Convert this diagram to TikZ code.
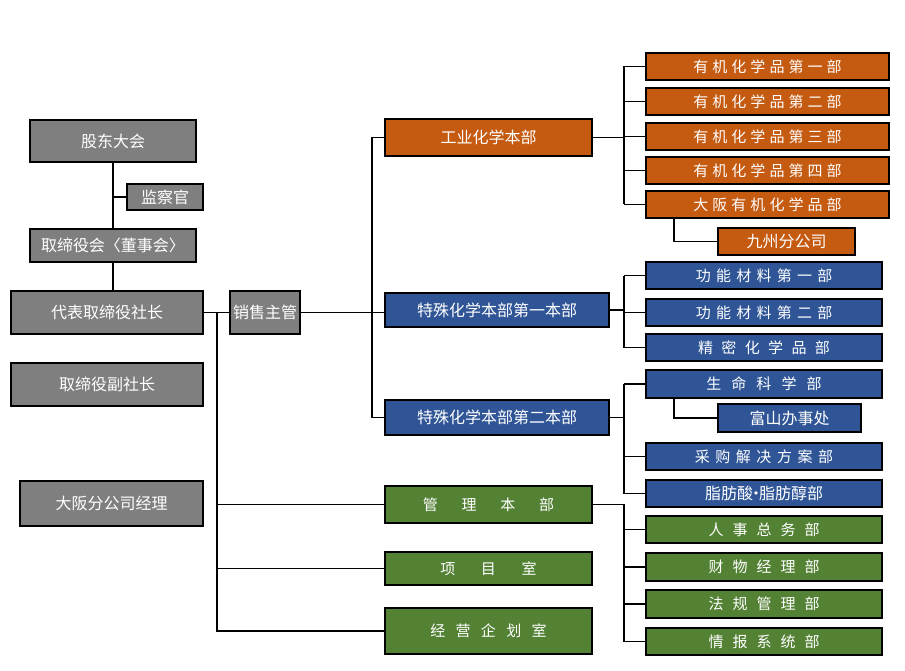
\documentclass[tikz,border=0pt]{standalone}
\usepackage{fontspec}
\setmainfont{Noto Sans CJK SC}
\usetikzlibrary{positioning,calc}
\definecolor{boxgray}{RGB}{127,127,127}
\definecolor{boxorange}{RGB}{197,90,17}
\definecolor{boxblue}{RGB}{47,85,151}
\definecolor{boxgreen}{RGB}{84,130,53}
\tikzset{
  unit/.style={draw=black,line width=2.3pt,fill=#1,text=white,inner sep=0pt,
    font=\fontsize{16}{18}\selectfont},
  sz/.style 2 args={minimum width=#1,minimum height=#2},
  ls/.style={font=\fontsize{15}{17}\selectfont\addfontfeature{LetterSpace=#1}},
  link/.style={line width=1.9pt}
}

\begin{document}
\begin{tikzpicture}[x=1pt,y=-1pt]
    \useasboundingbox (0,0) rectangle (905,671);
    % left column
    \node[unit=boxgray,sz={166}{42}] (gd) at (113,141) {股东大会};
    \node[unit=boxgray,sz={76}{26}] (jc) at (165,197) {监察官};
    \node[unit=boxgray,sz={166}{33}] (db) at (113,245.5) {取缔役会〈董事会〉};
    \node[unit=boxgray,sz={192}{43}] (dz) at (107,312.5) {代表取缔役社长};
    \node[unit=boxgray,sz={192}{43}] (fz) at (107,384.5) {取缔役副社长};
    \node[unit=boxgray,sz={183}{45}] (os) at (111.5,503.5) {大阪分公司经理};
    \node[unit=boxgray,sz={70}{43}] (xs) at (265,312.5) {销售主管};
    % middle column
    \node[unit=boxorange,sz={207}{37}] (gy) at (488.5,137.5) {工业化学本部};
    \node[unit=boxblue,sz={224}{34}] (ts1) at (497,310) {特殊化学本部第一本部};
    \node[unit=boxblue,sz={224}{35}] (ts2) at (497,417.5) {特殊化学本部第二本部};
    \node[unit=boxgreen,sz={207}{37},ls=158] (gl) at (488.5,504.5) {管理本部};
    \node[unit=boxgreen,sz={207}{33},ls=171] (xm) at (488.5,568.5) {项目室};
    \node[unit=boxgreen,sz={207}{46},ls=69] (jy) at (488.5,631) {经营企划室};
    % right column
    \node[unit=boxorange,sz={243}{27},ls=27] (o1) at (767.5,66.5) {有机化学品第一部};
    \node[unit=boxorange,sz={243}{27},ls=27] (o2) at (767.5,101.5) {有机化学品第二部};
    \node[unit=boxorange,sz={243}{27},ls=27] (o3) at (767.5,136.5) {有机化学品第三部};
    \node[unit=boxorange,sz={243}{27},ls=27] (o4) at (767.5,170.5) {有机化学品第四部};
    \node[unit=boxorange,sz={243}{27},ls=27] (o5) at (767.5,204.5) {大阪有机化学品部};
    \node[unit=boxorange,sz={137}{27}] (kz) at (786.5,241.5) {九州分公司};
    \node[unit=boxblue,sz={236}{27},ls=35] (b1) at (764,275.5) {功能材料第一部};
    \node[unit=boxblue,sz={236}{27},ls=35] (b2) at (764,312.5) {功能材料第二部};
    \node[unit=boxblue,sz={236}{27},ls=56] (b3) at (764,347.5) {精密化学品部};
    \node[unit=boxblue,sz={236}{28},ls=67] (b4) at (764,384) {生命科学部};
    \node[unit=boxblue,sz={143}{28}] (ty) at (789.5,418) {富山办事处};
    \node[unit=boxblue,sz={236}{27},ls=37] (b5) at (764,456.5) {采购解决方案部};
    \node[unit=boxblue,sz={236}{27}] (b6) at (764,493.5) {脂肪酸\kern-5pt·\kern-5pt脂肪醇部};
    \node[unit=boxgreen,sz={236}{27},ls=60] (g1) at (764,529.5) {人事总务部};
    \node[unit=boxgreen,sz={236}{28},ls=60] (g2) at (764,567) {财物经理部};
    \node[unit=boxgreen,sz={236}{28},ls=60] (g3) at (764,604) {法规管理部};
    \node[unit=boxgreen,sz={236}{27},ls=60] (g4) at (764,641.5) {情报系统部};
    % bus lines
    \coordinate (busL) at (217,0);
    \coordinate (busM) at (372,0);
    \coordinate (busR) at (624,0);
    \coordinate (busS) at (674,0);
    % connectors
    \draw[link] (gd.south) -- (db.north);
    \draw[link] (jc.west) -- (jc.west -| gd.south);
    \draw[link] (db.south) -- (db.south |- dz.north);
    \draw[link] (dz.east) -- (xs.west);
    \draw[link] (busL |- dz.east) -- (busL |- jy.west) -- (jy.west);
    \draw[link] (gl.west) -- (gl.west -| busL);
    \draw[link] (xm.west) -- (xm.west -| busL);
    \draw[link] (xs.east) -- (xs.east -| ts1.west);
    \draw[link] (gy.west) -- (gy.west -| busM) -- (busM |- ts2.west) -- (ts2.west);
    \draw[link] (gy.east) -- (gy.east -| busR);
    \draw[link] (busR |- o1.west) -- (busR |- o5.west);
    \foreach \n in {o1,o2,o3,o4,o5} \draw[link] (\n.west) -- (\n.west -| busR);
    \draw[link] (busS |- o5.south) |- (kz.west);
    \draw[link] (ts1.east) -- (ts1.east -| busR);
    \draw[link] (busR |- b1.west) -- (busR |- b3.west);
    \foreach \n in {b1,b2,b3} \draw[link] (\n.west) -- (\n.west -| busR);
    \draw[link] (ts2.east) -- (ts2.east -| busR);
    \draw[link] (busR |- b4.west) -- (busR |- b6.west);
    \foreach \n in {b4,b5,b6} \draw[link] (\n.west) -- (\n.west -| busR);
    \draw[link] (busS |- b4.south) |- (ty.west);
    \draw[link] (gl.east) -- (gl.east -| busR) -- (busR |- g4.west);
    \foreach \n in {g1,g2,g3,g4} \draw[link] (\n.west) -- (\n.west -| busR);
\end{tikzpicture}
\end{document}
